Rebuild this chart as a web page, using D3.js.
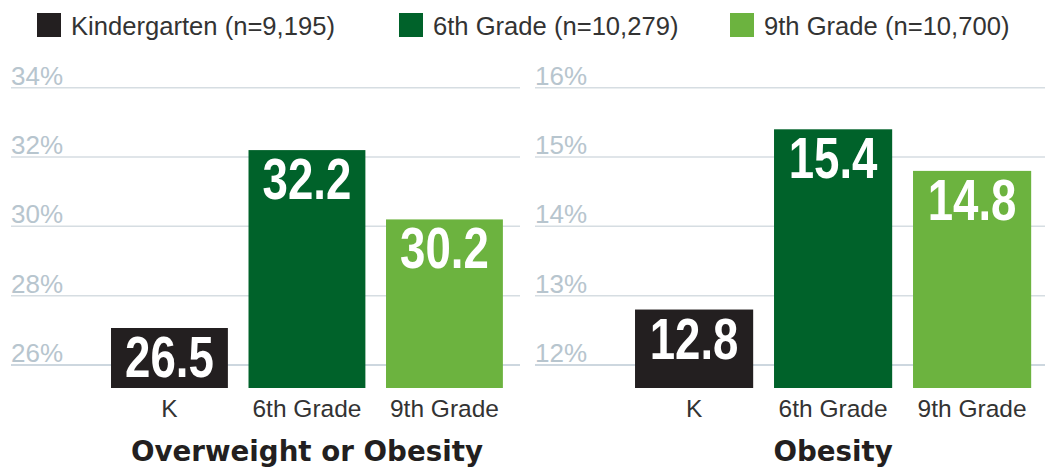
<!DOCTYPE html>
<html>
<head>
<meta charset="utf-8">
<script src="https://cdn.jsdelivr.net/npm/d3@7"></script>
<style>
  body { margin: 0; background: #fff; }
  svg { display: block; font-family: "Liberation Sans", Arial, sans-serif; }
</style>
</head>
<body>
<div id="chart"></div>
<script>
const categories = ["K", "6th Grade", "9th Grade"];
const legendLabels = ["Kindergarten (n=9,195)", "6th Grade (n=10,279)", "9th Grade (n=10,700)"];
const overweightValues = [26.5, 32.2, 30.2];
const obesityValues = [12.8, 15.4, 14.8];
const overweightTicks = [26, 28, 30, 32, 34];
const obesityTicks = [12, 13, 14, 15, 16];
const panelTitles = ["Overweight or Obesity", "Obesity"];
const colors = ["#231f20", "#00622a", "#6cb33f"];

const width = 1048;
const height = 473;
const plotTop = 87.7;
const plotTickBottom = 365;
const barBottom = 388;
const minBarHeight = 60; // keep room for the value label

const svg = d3.select("#chart")
  .append("svg")
  .attr("width", width)
  .attr("height", height);

// legend
const legendX = [37, 399, 730];
const legend = svg.append("g")
  .selectAll("g")
  .data(legendLabels)
  .enter()
  .append("g")
  .attr("transform", (d, i) => `translate(${legendX[i]}, 13)`);

legend.append("rect")
  .attr("width", 24)
  .attr("height", 24)
  .attr("fill", (d, i) => colors[i]);

legend.append("text")
  .attr("x", 34)
  .attr("y", 22)
  .attr("font-size", "25.6px")
  .attr("fill", "#333")
  .text(d => d);

const panels = [
  { title: panelTitles[0], values: overweightValues, ticks: overweightTicks, grid: [11, 520], bars: [100.7, 513.2] },
  { title: panelTitles[1], values: obesityValues, ticks: obesityTicks, grid: [535, 1045], bars: [624.6, 1041.6] }
];

panels.forEach(p => {
  const g = svg.append("g");

  const y = d3.scaleLinear()
    .domain([p.ticks[0], p.ticks[p.ticks.length - 1]])
    .range([plotTickBottom, plotTop]);

  const x = d3.scaleBand()
    .domain(categories)
    .range(p.bars)
    .paddingInner(0.15)
    .paddingOuter(0.075);

  // gridlines + tick labels
  const tick = g.append("g")
    .selectAll("g")
    .data(p.ticks)
    .enter()
    .append("g");

  tick.append("line")
    .attr("x1", p.grid[0])
    .attr("x2", p.grid[1])
    .attr("y1", d => y(d))
    .attr("y2", d => y(d))
    .attr("stroke", (d, i) => i === 0 ? "#bccad4" : "#d6dde2")
    .attr("stroke-width", 1.5);

  tick.append("text")
    .attr("x", p.grid[0])
    .attr("y", d => y(d) - 3)
    .attr("font-size", "26px")
    .attr("fill", "#b7c5ce")
    .text(d => d + "%");

  const data = p.values.map((v, i) => ({ cat: categories[i], value: v, i: i }));
  const barTop = d => Math.min(y(d.value), barBottom - minBarHeight);

  g.append("g")
    .selectAll("rect")
    .data(data)
    .enter()
    .append("rect")
    .attr("x", d => x(d.cat))
    .attr("width", x.bandwidth())
    .attr("y", d => barTop(d))
    .attr("height", d => barBottom - barTop(d))
    .attr("fill", d => colors[d.i]);

  // value labels inside bars
  g.append("g")
    .selectAll("text")
    .data(data)
    .enter()
    .append("text")
    .attr("transform", d => `translate(${x(d.cat) + x.bandwidth() / 2}, ${barTop(d) + 49}) scale(0.8, 1)`)
    .attr("text-anchor", "middle")
    .attr("font-size", "57px")
    .attr("font-weight", "bold")
    .attr("fill", "#fff")
    .text(d => d.value.toFixed(1));

  // category labels
  g.append("g")
    .selectAll("text")
    .data(categories)
    .enter()
    .append("text")
    .attr("x", d => x(d) + x.bandwidth() / 2)
    .attr("y", 417)
    .attr("text-anchor", "middle")
    .attr("font-size", "24.5px")
    .attr("fill", "#333")
    .text(d => d);

  // panel title
  g.append("text")
    .attr("x", (p.bars[0] + p.bars[1]) / 2)
    .attr("y", 461)
    .attr("text-anchor", "middle")
    .attr("font-family", "'DejaVu Sans', sans-serif")
    .attr("font-size", "27.7px")
    .attr("font-weight", "bold")
    .attr("fill", "#231f20")
    .text(p.title);
});
</script>
</body>
</html>
